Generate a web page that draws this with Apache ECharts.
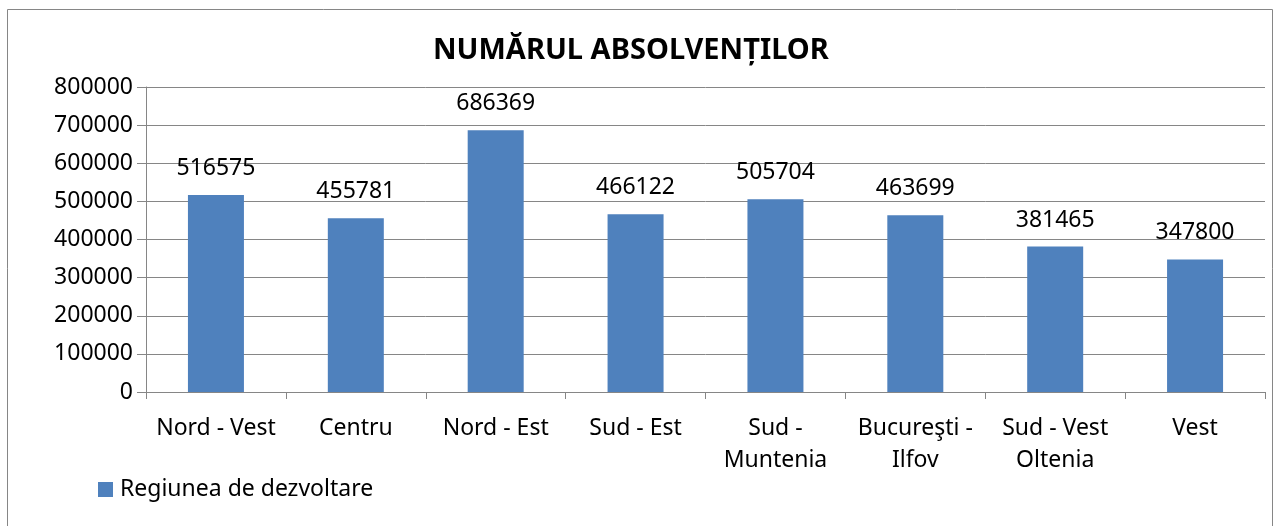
<!DOCTYPE html>
<html>
<head>
<meta charset="utf-8">
<script src="https://cdn.jsdelivr.net/npm/echarts@6/dist/echarts.min.js"></script>
<style>
    html, body { margin: 0; padding: 0; background: #fff; }
    #chart { width: 1274px; height: 526px; }
</style>
</head>
<body>
<div id="chart"></div>
<script>
    // date
    const regiuni = ['Nord - Vest', 'Centru', 'Nord - Est', 'Sud - Est', 'Sud -\nMuntenia', 'Bucureşti -\nIlfov', 'Sud - Vest\nOltenia', 'Vest'];
    const absolventi = [516575, 455781, 686369, 466122, 505704, 463699, 381465, 347800];
    const numeSerie = 'Regiunea de dezvoltare';
    const titlu = 'NUMĂRUL ABSOLVENȚILOR';

    const font = '"Noto Sans", "Open Sans", sans-serif';
    const chart = echarts.init(document.getElementById('chart'));
    chart.setOption({
        animation: false,
        textStyle: { fontFamily: font },
        graphic: [{
            type: 'rect',
            shape: { x: 7.5, y: 9.5, width: 1265, height: 530 },
            style: { fill: 'none', stroke: '#868686', lineWidth: 1 },
            silent: true
        }],
        title: {
            text: titlu,
            left: 428,
            top: 31,
            textStyle: { fontFamily: font, fontSize: 29, fontWeight: 'bold', color: '#000' }
        },
        legend: {
            left: 93,
            top: 473,
            itemWidth: 15,
            itemHeight: 15,
            icon: 'rect',
            itemGap: 10,
            textStyle: { fontFamily: font, fontSize: 23, color: '#000', padding: [0, 0, 0, 2] },
            data: [numeSerie]
        },
        grid: { left: 146, right: 9, top: 87, bottom: 134 },
        xAxis: {
            type: 'category',
            data: regiuni,
            axisLine: { lineStyle: { color: '#868686', width: 1 } },
            axisTick: { show: true, length: 7, lineStyle: { color: '#868686' } },
            axisLabel: { color: '#000', fontSize: 23, lineHeight: 32, margin: 20, interval: 0, fontFamily: font }
        },
        yAxis: {
            type: 'value',
            min: 0,
            max: 800000,
            interval: 100000,
            axisLine: { show: true, lineStyle: { color: '#868686' } },
            axisTick: { show: true, length: 9, lineStyle: { color: '#868686' } },
            axisLabel: { color: '#000', fontSize: 23, margin: 13, fontFamily: font, formatter: v => String(v) },
            splitLine: { lineStyle: { color: '#868686', width: 1 } }
        },
        series: [{
            name: numeSerie,
            type: 'bar',
            data: absolventi,
            barWidth: 56,
            itemStyle: { color: '#4F81BD' },
            label: {
                show: true,
                position: 'top',
                distance: 15,
                color: '#000',
                fontSize: 23,
                fontFamily: font,
                formatter: p => String(p.value)
            }
        }]
    });
</script>
</body>
</html>
